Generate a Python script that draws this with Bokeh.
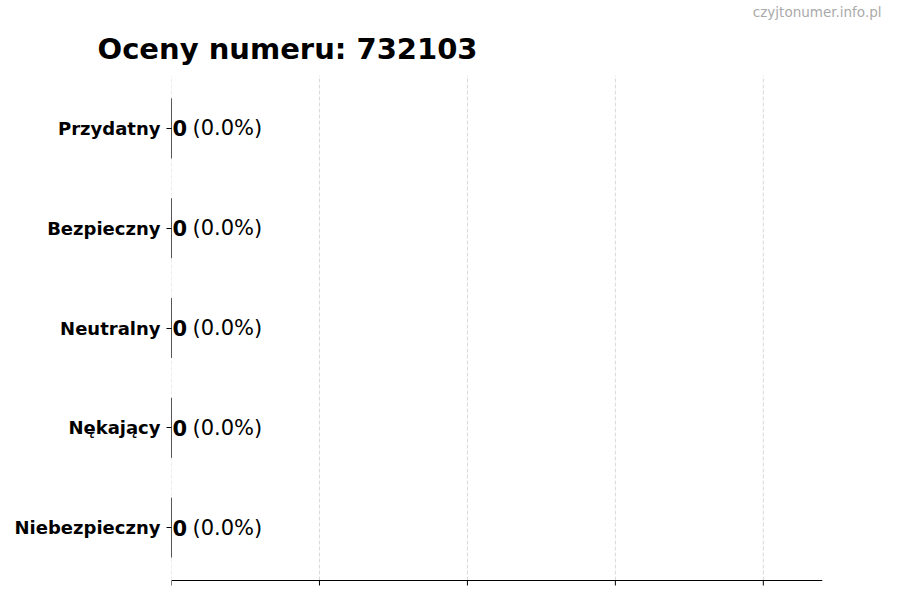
from bokeh.plotting import figure
from bokeh.models import Range1d, FixedTicker, Title, ColumnDataSource
from bokeh.core.properties import value
from bokeh.embed import file_html
from bokeh.resources import INLINE

title_text = "Oceny numeru: 732103"
watermark = "czyjtonumer.info.pl"
categories = ["Przydatny", "Bezpieczny", "Neutralny", "Nękający", "Niebezpieczny"]
counts = [0, 0, 0, 0, 0]
x_ticks = [0, 1, 2, 3, 4]

total = sum(counts)
pcts = [(c / total * 100 if total else 0.0) for c in counts]
count_txt = [str(c) for c in counts]
pct_txt = ["(%.1f%%)" % p for p in pcts]
n = len(categories)
ypos = [n - 1 - i for i in range(n)]  # first category on top

src = ColumnDataSource(dict(cat=categories, y=ypos, cnt=counts, ctxt=count_txt, ptxt=pct_txt))

FONT = "DejaVu Sans"
X_MAX = 4.4
Y_AXIS = -0.53     # where the bottom axis line sits
Y_TOP = n - 1 + 0.53
TICK = 0.05        # tick length in y units (~5px)
Y_LOW = Y_AXIS - 0.06

p = figure(width=900, height=600, output_backend="svg", toolbar_location=None,
           x_range=Range1d(0, X_MAX), y_range=Range1d(Y_LOW, Y_TOP),
           min_border_left=171, min_border_right=78, min_border_top=75, min_border_bottom=14)
p.outline_line_color = None
p.background_fill_color = "white"
p.border_fill_color = "white"
p.xaxis.visible = False
p.xgrid.grid_line_color = None
p.ygrid.grid_line_color = None

# vertical dashed grid lines at the tick positions
p.segment(x0=x_ticks, x1=x_ticks, y0=[Y_AXIS] * len(x_ticks), y1=[Y_TOP] * len(x_ticks),
          line_color="#d9d9d9", line_dash="4 2", line_width=1)
# bottom axis line and ticks
p.segment(x0=[0], x1=[X_MAX], y0=[Y_AXIS], y1=[Y_AXIS], line_color="black", line_width=1.2)
p.segment(x0=x_ticks, x1=x_ticks, y0=[Y_AXIS] * len(x_ticks), y1=[Y_AXIS - TICK] * len(x_ticks),
          line_color="black", line_width=1)

p.hbar(y="y", left=0, right="cnt", height=0.6, source=src,
       fill_color="#4c72b0", line_color="#222222", line_width=1)

p.text(x="cnt", y="y", text="ctxt", source=src, x_offset=1,
       text_font=value(FONT), text_font_style="bold", text_font_size="21px",
       text_baseline="middle", text_align="left", text_color="black")
p.text(x="cnt", y="y", text="ptxt", source=src, x_offset=21,
       text_font=value(FONT), text_font_size="21px",
       text_baseline="middle", text_align="left", text_color="black")

# y axis
p.yaxis.ticker = FixedTicker(ticks=ypos)
p.yaxis.major_label_overrides = {y: c for y, c in zip(ypos, categories)}
p.yaxis.axis_line_color = None
p.yaxis.minor_tick_line_color = None
p.yaxis.major_tick_out = 5
p.yaxis.major_tick_in = 0
p.yaxis.major_tick_line_color = "black"
p.yaxis.major_label_text_font = FONT
p.yaxis.major_label_text_font_style = "bold"
p.yaxis.major_label_text_font_size = "18px"
p.yaxis.major_label_text_color = "black"
p.yaxis.major_label_standoff = 6

# watermark = outermost title (top), main title directly above the frame
p.title = Title(text=watermark, align="right", offset=-59, text_font=FONT,
                text_font_style="normal", text_font_size="13.5px",
                text_color="#aaaaaa", standoff=0)
p.add_layout(Title(text=title_text, align="left", offset=-74, text_font=FONT,
                   text_font_style="bold", text_font_size="29px",
                   text_color="black", standoff=20), "above")

open("out.html", "w").write(file_html(p, INLINE))
